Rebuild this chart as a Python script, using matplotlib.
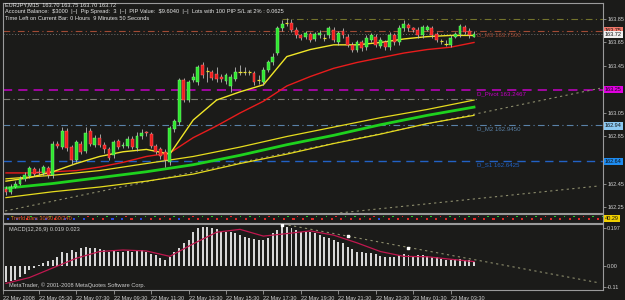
import matplotlib.pyplot as plt
import numpy as np

plt.rcParams['font.family'] = ['Liberation Sans', 'DejaVu Sans']

# ---- price bars (EURJPY M15), one per 15 minutes from 22 May 03:45 ----
opens = [162.40, 162.38, 162.42, 162.45, 162.49, 162.51, 162.57, 162.55, 162.54, 162.58,
         162.52, 162.79, 162.76, 162.90, 162.76, 162.65, 162.79, 162.73, 162.90, 162.78,
         162.84, 162.78, 162.74, 162.69, 162.81, 162.77, 162.77, 162.83, 162.75, 162.85,
         162.89, 162.87, 162.77, 162.74, 162.72, 162.63, 162.91, 162.97, 163.33, 163.16,
         163.33, 163.31, 163.46, 163.41, 163.40, 163.38, 163.36, 163.32, 163.28, 163.34,
         163.40, 163.40, 163.40, 163.39, 163.33, 163.31, 163.42, 163.48, 163.56, 163.77,
         163.82, 163.82, 163.76, 163.71, 163.70, 163.72, 163.68, 163.71, 163.69, 163.71,
         163.76, 163.65, 163.75, 163.70, 163.63, 163.59, 163.65, 163.61, 163.67, 163.70,
         163.62, 163.65, 163.61, 163.71, 163.65, 163.77, 163.80, 163.77, 163.76, 163.71,
         163.76, 163.77, 163.72, 163.66, 163.64, 163.63, 163.70, 163.72, 163.78, 163.75,
         163.70]
highs = [162.43, 162.45, 162.47, 162.51, 162.55, 162.60, 162.59, 162.58, 162.61, 162.60,
         162.81, 162.81, 162.93, 162.92, 162.78, 162.82, 162.81, 162.93, 162.92, 162.86,
         162.87, 162.80, 162.76, 162.82, 162.83, 162.80, 162.85, 162.85, 162.89, 162.91,
         162.90, 162.89, 162.79, 162.76, 162.74, 162.94, 163.00, 163.35, 163.35, 163.33,
         163.39, 163.46, 163.48, 163.44, 163.42, 163.44, 163.38, 163.39, 163.38, 163.44,
         163.46, 163.44, 163.42, 163.41, 163.37, 163.44, 163.50, 163.56, 163.79, 163.84,
         163.86, 163.85, 163.78, 163.72, 163.75, 163.74, 163.74, 163.76, 163.72, 163.79,
         163.78, 163.75, 163.77, 163.72, 163.65, 163.67, 163.67, 163.71, 163.73, 163.72,
         163.70, 163.67, 163.74, 163.73, 163.80, 163.84, 163.82, 163.78, 163.78, 163.80,
         163.80, 163.79, 163.74, 163.68, 163.67, 163.71, 163.74, 163.81, 163.80, 163.77,
         163.75]
lows = [162.35, 162.36, 162.41, 162.44, 162.47, 162.50, 162.51, 162.52, 162.52, 162.50,
        162.50, 162.75, 162.74, 162.73, 162.62, 162.63, 162.70, 162.71, 162.77, 162.76,
        162.76, 162.71, 162.65, 162.67, 162.74, 162.75, 162.75, 162.74, 162.73, 162.83,
        162.85, 162.75, 162.70, 162.66, 162.59, 162.61, 162.89, 162.95, 163.14, 163.14,
        163.31, 163.29, 163.35, 163.31, 163.33, 163.31, 163.31, 163.30, 163.23, 163.32,
        163.37, 163.37, 163.37, 163.29, 163.30, 163.29, 163.40, 163.46, 163.54, 163.75,
        163.79, 163.74, 163.69, 163.67, 163.68, 163.65, 163.66, 163.69, 163.66, 163.69,
        163.65, 163.63, 163.69, 163.61, 163.57, 163.57, 163.58, 163.59, 163.65, 163.61,
        163.60, 163.59, 163.59, 163.63, 163.63, 163.75, 163.75, 163.74, 163.69, 163.69,
        163.75, 163.69, 163.65, 163.64, 163.62, 163.61, 163.69, 163.70, 163.72, 163.69,
        163.70]
closes = [162.38, 162.42, 162.45, 162.49, 162.52, 162.58, 162.53, 162.54, 162.59, 162.52,
          162.79, 162.77, 162.90, 162.75, 162.65, 162.80, 162.72, 162.88, 162.79, 162.84,
          162.78, 162.74, 162.67, 162.80, 162.76, 162.78, 162.83, 162.76, 162.85, 162.88,
          162.88, 162.77, 162.72, 162.68, 162.65, 162.92, 162.98, 163.33, 163.16, 163.31,
          163.36, 163.44, 163.37, 163.41, 163.35, 163.34, 163.34, 163.37, 163.36, 163.40,
          163.40, 163.40, 163.40, 163.31, 163.33, 163.42, 163.48, 163.53, 163.77, 163.81,
          163.82, 163.76, 163.71, 163.69, 163.73, 163.67, 163.72, 163.73, 163.69, 163.77,
          163.67, 163.73, 163.71, 163.63, 163.59, 163.65, 163.60, 163.69, 163.71, 163.63,
          163.67, 163.61, 163.71, 163.65, 163.77, 163.81, 163.77, 163.76, 163.71, 163.78,
          163.78, 163.71, 163.67, 163.66, 163.64, 163.69, 163.72, 163.79, 163.74, 163.71,
          163.72]

# moving averages, read every 5 bars
ma_step = 5
ma_fast = [162.47, 162.50, 162.55, 162.62, 162.68, 162.72, 162.74, 162.70, 162.99, 163.16,
           163.23, 163.29, 163.53, 163.59, 163.63, 163.63, 163.65, 163.68, 163.70, 163.71, 163.71]
ma_slow = [162.54, 162.54, 162.55, 162.56, 162.59, 162.63, 162.68, 162.71, 162.84, 162.94,
           163.05, 163.15, 163.28, 163.36, 163.43, 163.48, 163.52, 163.56, 163.59, 163.61, 163.65]
# long average and its envelope, read every 10 bars
env_step = 10
ma_long = [162.41, 162.45, 162.50, 162.55, 162.61, 162.69, 162.78, 162.86, 162.95, 163.03, 163.10]
env_upper = [162.49, 162.52, 162.56, 162.62, 162.68, 162.76, 162.85, 162.93, 163.01, 163.08, 163.16]
env_lower = [162.33, 162.38, 162.42, 162.47, 162.53, 162.62, 162.70, 162.79, 162.87, 162.96, 163.03]

# daily pivot levels
pivot_names = ['D_M3 163.7500', 'D_Pivot 163.2467', 'D_M2 162.9450', 'D_S1 162.6425']
pivot_values = [163.75, 163.2467, 162.945, 162.6425]
level_high = 163.85
level_mid = 163.17
bid = 163.72

# trend lines (bar index, price)
trend_upper = [(-0.2, 162.216), (126.9, 163.26)]
trend_lower = [(71.4, 162.20), (126.9, 162.43)]

# MACD(12,26,9)
macd_hist = [-0.083, -0.078, -0.073, -0.057, -0.041, -0.021, -0.010, 0.005, 0.016, 0.026,
             0.031, 0.047, 0.073, 0.067, 0.083, 0.073, 0.093, 0.098, 0.093, 0.093,
             0.088, 0.083, 0.073, 0.078, 0.073, 0.073, 0.078, 0.073, 0.078, 0.083,
             0.073, 0.062, 0.057, 0.041, 0.031, 0.047, 0.073, 0.093, 0.119, 0.135,
             0.176, 0.197, 0.202, 0.202, 0.197, 0.192, 0.176, 0.176, 0.176, 0.171,
             0.161, 0.150, 0.145, 0.140, 0.135, 0.135, 0.145, 0.171, 0.187, 0.202,
             0.202, 0.197, 0.187, 0.176, 0.176, 0.176, 0.171, 0.161, 0.150, 0.145,
             0.135, 0.124, 0.119, 0.098, 0.088, 0.073, 0.073, 0.067, 0.067, 0.062,
             0.052, 0.047, 0.047, 0.047, 0.057, 0.062, 0.057, 0.052, 0.057, 0.057,
             0.052, 0.047, 0.047, 0.036, 0.031, 0.031, 0.036, 0.036, 0.031, 0.031,
             0.019]
macd_signal = [-0.09, -0.06, -0.01, 0.04, 0.075, 0.083, 0.078, 0.05, 0.115, 0.175,
               0.19, 0.155, 0.168, 0.182, 0.16, 0.12, 0.075, 0.05, 0.048, 0.035, 0.023]
macd_trend = [(59.2, 0.217), (126.9, -0.088)]
macd_marks_x = [59, 73, 86]
macd_marks_y = [0.212, 0.156, 0.093]
macd_ticks = [0.197, 0.0, -0.109]
macd_ticklabels = ['0.197', '0.00', '-0.11']

price_ticks = [162.25, 162.45, 162.85, 163.05, 163.45, 163.65, 163.85]

time_ticks = [-0.55, 7, 15, 23, 31, 39, 47, 55, 63, 71, 79, 87, 95]
time_labels = ['22 May 2008', '22 May 05:30', '22 May 07:30', '22 May 09:30', '22 May 11:30',
               '22 May 13:30', '22 May 15:30', '22 May 17:30', '22 May 19:30', '22 May 21:30',
               '22 May 23:30', '23 May 01:30', '23 May 03:30']

strip_a = "bbrbbrbbbrrbbrbrrrbrrrrrrrrrrrrrrrrrrrrbrrrrrrrrrrrrrrrrrrrrrrr"
strip_b = "grgggrggrgggrgggrggrgggrgggrggrgggrgggrggrgggrgggrggrgggrgggrgg"

header = ['EURJPY,M15  163.70 163.75 163.70 163.72',
          r'Account Balance:  \$3000  |~|  Pip Spread:  3  |~|  PIP Value:  \$9.6040  |~|  '
          'Lots with 100 PIP S/L at 2% : 0.0625',
          'Time Left on Current Bar: 0 Hours  9 Minutes 50 Seconds']

# ---- styling ----
bg = '#1b1b19'
fg = '#cfcfcf'
frame = '#9a9a9a'
W, H = 625, 300
XL = (-0.64, 127.56)


def box(l, t, r, b):
    return [l / W, 1 - b / H, (r - l) / W, (b - t) / H]


fig = plt.figure(figsize=(W / 100, H / 100), dpi=100, facecolor=bg)
ax = fig.add_axes(box(3, 3, 603, 213))
st = fig.add_axes(box(3, 214, 603, 223))
mc = fig.add_axes(box(3, 224, 603, 290))

for a in (ax, st, mc):
    a.set_facecolor(bg)
    a.set_xlim(*XL)
    for s in a.spines.values():
        s.set_color(frame)
        s.set_linewidth(0.8)

# ---- main chart ----
ax.set_ylim(162.199, 163.986)
idx = np.arange(len(closes))
o = np.array(opens); c = np.array(closes)
h = np.array(highs); l = np.array(lows)
up = c > o
dn = c < o
dj = c == o

ax.vlines(idx, l, h, color='#b8b8b8', lw=0.6, zorder=4)
ax.bar(idx[up], (c - o)[up], bottom=o[up], width=0.62, color='#2ee62e',
       edgecolor='#8cff8c', lw=0.3, zorder=5)
ax.bar(idx[dn], (o - c)[dn], bottom=c[dn], width=0.62, color='#f01c1c',
       edgecolor='#ff8080', lw=0.3, zorder=5)
ax.hlines(o[dj], idx[dj] - 0.35, idx[dj] + 0.35, color='#e8e030', lw=0.9, zorder=5)

mi = np.arange(len(ma_fast)) * ma_step
ei = np.arange(len(ma_long)) * env_step
ax.plot(ei, env_upper, color='#e6dc1e', lw=0.9, zorder=3)
ax.plot(ei, env_lower, color='#e6dc1e', lw=0.9, zorder=3)
ax.plot(ei, ma_long, color='#1ed21e', lw=2.0, zorder=3)
ax.plot(mi, ma_slow, color='#e81c1c', lw=1.0, zorder=3)
ax.plot(mi, ma_fast, color='#f0e628', lw=1.0, zorder=3)

dashdot = (0, (6, 3, 1, 3))
dashed = (0, (6, 4))
ax.hlines(level_high, 59, XL[1], color='#74742c', lw=0.8, ls=dashdot, zorder=2)
ax.hlines(level_mid, XL[0], 101, color='#7c7c72', lw=0.8, ls=dashdot, zorder=2)
ax.axhline(bid, color='#6e6e6e', lw=0.7, ls=(0, (1, 2)), zorder=2)

pv_colors = ['#a04a34', '#c400c4', '#5a82a8', '#2262c4']
pv_styles = [dashdot, dashed, dashdot, dashed]
pv_widths = [0.8, 1.1, 0.8, 1.0]
for name, val, col, ls, lw in zip(pivot_names, pivot_values, pv_colors, pv_styles, pv_widths):
    ax.axhline(val, color=col, lw=lw, ls=ls, zorder=2)
    ax.text(100.6, val - 0.012, name, color=col, fontsize=4.4, va='top', ha='left', zorder=6)

for (x0, y0), (x1, y1) in (trend_upper, trend_lower):
    ax.plot([x0, x1], [y0, y1], color='#8c8c6c', lw=0.8, ls=(0, (2, 3)), zorder=2)

ax.set_xticks([])
ax.yaxis.tick_right()
ax.set_yticks(price_ticks)
ax.set_yticklabels([f'{v:.2f}' for v in price_ticks])
ax.tick_params(axis='y', colors=frame, labelcolor=fg, labelsize=4.0, length=2,
               width=0.6, pad=1)

boxes = [(163.75, '163.75', '#f0786a'), (bid, '163.72', '#f0f0f0'),
         (163.25, '163.25', '#e000e0'), (162.94, '162.94', '#8cc8f0'),
         (162.64, '162.64', '#1e8cf0')]
for val, txt, col in boxes:
    ax.text(1.003, val, txt, transform=ax.get_yaxis_transform(), ha='left', va='center',
            fontsize=4.0, color='#101010', zorder=8,
            bbox=dict(boxstyle='square,pad=0.2', fc=col, ec='none'))

# ---- indicator strip ----
st.set_ylim(0, 1)
st.set_xticks([]); st.set_yticks([])
cmap = {'r': '#e02828', 'b': '#2848e0', 'g': '#28c828'}
sx = np.linspace(XL[0] + 1, XL[1] - 1, len(strip_a))
st.scatter(sx, np.full(len(sx), 0.45), c=[cmap[k] for k in strip_a], s=2.2, marker='s', lw=0)
st.scatter(sx + 0.9, np.full(len(sx), 0.72), c=[cmap[k] for k in strip_b], s=1.2, marker='s', lw=0)
st.text(1.0, 0.5, 'Trend Bars 30/60 60/240', color='#e05a28', fontsize=4.0, va='center')
st.text(1.003, 0.5, '40.29', transform=st.transAxes, ha='left', va='center',
        fontsize=4.0, color='#101010',
        bbox=dict(boxstyle='square,pad=0.2', fc='#f0d000', ec='none'))

# ---- MACD ----
mc.set_ylim(-0.1244, 0.2177)
mc.bar(idx, macd_hist, width=0.42, color='#d6d6d6', zorder=3)
si = np.arange(len(macd_signal)) * ma_step
mc.plot(si, macd_signal, color='#c0174f', lw=0.9, zorder=4)
(x0, y0), (x1, y1) = macd_trend
mc.plot([x0, x1], [y0, y1], color='#8c8c6c', lw=0.8, ls=(0, (2, 3)), zorder=2)
mc.scatter(macd_marks_x, macd_marks_y, marker='s', s=3, color='white', zorder=5)

mc.yaxis.tick_right()
mc.set_yticks(macd_ticks)
mc.set_yticklabels(macd_ticklabels)
mc.tick_params(axis='y', colors=frame, labelcolor=fg, labelsize=4.0, length=2,
               width=0.6, pad=1)
mc.set_xticks(time_ticks)
mc.set_xticklabels(time_labels, ha='left')
mc.tick_params(axis='x', colors=frame, labelcolor=fg, labelsize=4.0, length=3,
               width=0.6, pad=1)

mc.text(0.6, 0.19, 'MACD(12,26,9) 0.019 0.023', color=fg, fontsize=4.1, va='center')
mc.text(0.6, -0.1, 'MetaTrader, \u00a9 2001-2008 MetaQuotes Software Corp.',
        color=fg, fontsize=4.1, va='center')

for k, line in enumerate(header):
    fig.text(5 / W, 1 - (5 + 7 * k) / H, line, color='#e6e6e6', fontsize=4.1, va='center')

plt.savefig('out.png', dpi=100, facecolor=bg)
